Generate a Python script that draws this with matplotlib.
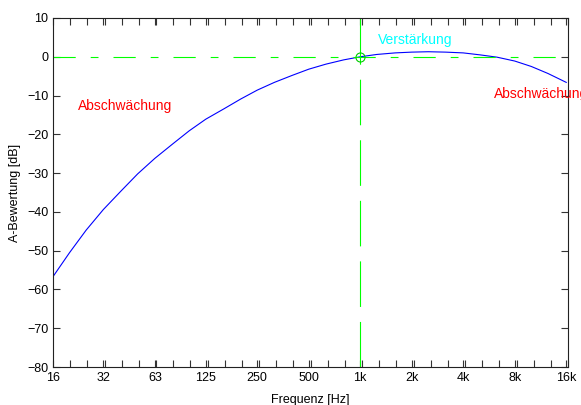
import numpy as np
import matplotlib
matplotlib.use("Agg")
import matplotlib.pyplot as plt

plt.rcParams['font.family'] = ['Liberation Sans', 'DejaVu Sans']

# Terzmittenfrequenzen und A-Bewertung
freq = [16, 20, 25, 31.5, 40, 50, 63, 80, 100, 125, 160, 200, 250, 315, 400,
        500, 630, 800, 1000, 1250, 1600, 2000, 2500, 3150, 4000, 5000, 6300,
        8000, 10000, 12500, 16000]
a_db = [-56.7, -50.5, -44.7, -39.4, -34.6, -30.2, -26.2, -22.5, -19.1, -16.1,
        -13.4, -10.9, -8.6, -6.6, -4.8, -3.2, -1.9, -0.8, 0.0, 0.6, 1.0, 1.2,
        1.3, 1.2, 1.0, 0.5, -0.1, -1.1, -2.5, -4.3, -6.6]

tick_pos = [16, 31.5, 63, 125, 250, 500, 1000, 2000, 4000, 8000, 16000]
tick_lab = ['16', '32', '63', '125', '250', '500', '1k', '2k', '4k', '8k', '16k']
yticks = list(range(-80, 11, 10))

fig = plt.figure(figsize=(5.81, 4.05), dpi=100)
ax = fig.add_axes([53/581, 38/405, 515/581, 349/405])

ax.semilogx(freq, a_db, color='blue', lw=0.8)
ax.axhline(0, color='#00ff00', lw=0.8, dashes=(20, 13.5, 7, 13.5))
ax.axvline(1000, color='#00ff00', lw=0.8, dashes=(41, 13.5))
ax.plot([1000], [0], 'o', mfc='none', mec='#00cc00', ms=6.5, mew=0.8)

ax.text(22.4, -12.7, 'Abschwächung', color='red', fontsize=10, va='center')
ax.text(1261, 4.3, 'Verstärkung', color='cyan', fontsize=10, va='center')
ax.text(6040, -9.6, 'Abschwächung', color='red', fontsize=10, va='center',
        clip_on=False)

ax.set_xlim(16, 16000)
ax.set_ylim(-80, 10)
ax.set_xticks(tick_pos)
ax.set_xticklabels(tick_lab)
ax.set_xticks([16 * 2 ** (k / 3) for k in range(31)], minor=True)
ax.set_xticklabels([], minor=True)
ax.set_yticks(yticks)
ax.tick_params(which='both', direction='in', top=True, right=True,
               labelsize=9, color='#333333', length=5, width=0.8)
for s in ax.spines.values():
    s.set_color('#222222')
    s.set_linewidth(0.8)

ax.set_xlabel('Frequenz [Hz]', fontsize=9, labelpad=7)
ax.set_ylabel('A-Bewertung [dB]', fontsize=9, labelpad=4)

fig.savefig('out.png', dpi=100)
